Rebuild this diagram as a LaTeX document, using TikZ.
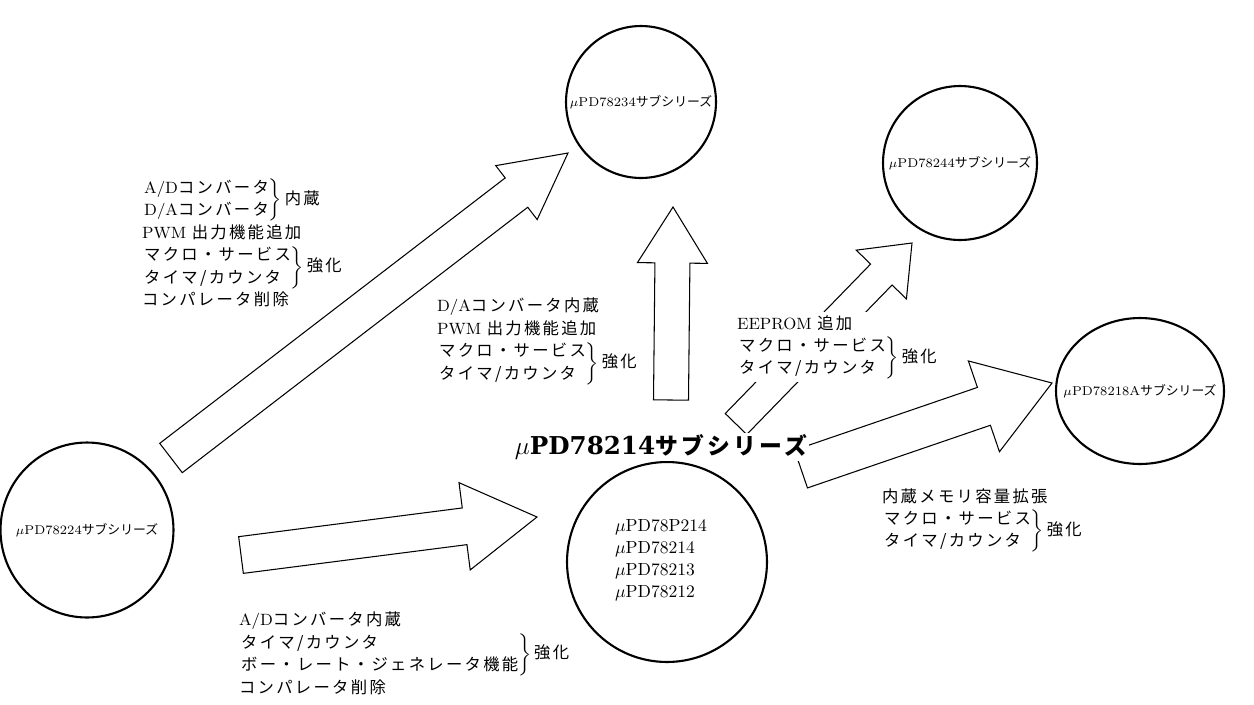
\documentclass[tikz,border=0pt]{standalone}
\usepackage{fontspec}
\usetikzlibrary{calc,shapes.geometric}
\newfontfamily\jp[LetterSpace=14]{Noto Sans CJK JP}
\newfontfamily\jpn{Noto Sans CJK JP}
\newfontfamily\slab{DejaVu Serif}
\tikzstyle{series} = [ellipse, draw=black, line width=1.2pt, inner sep=0pt]
\tikzstyle{subname} = [inner sep=0pt, font={\fontsize{7.3}{10}\selectfont}]
\tikzstyle{spec} = [inner sep=1pt, anchor=west, font={\fontsize{9.3}{12.75}\selectfont}]
\tikzstyle{fat} = [draw=black, line width=0.6pt, line join=miter]
% block arrow: name, tail, tip, half shaft, half head, head length
\newcommand{\fatarrow}[6]{%
  \coordinate (#1) at ($(#3)!#6!(#2)$);
  \draw[fat] ($(#2)!#4!90:(#3)$) -- ($(#1)!#4!90:(#3)$) -- ($(#1)!#5!90:(#3)$) -- (#3)
    -- ($(#1)!#5!-90:(#3)$) -- ($(#1)!#4!-90:(#3)$) -- ($(#2)!#4!-90:(#3)$) -- cycle;
}
\newcommand{\grp}[2]{$\left.\begin{tabular}{@{}l@{}}#1\end{tabular}\right\}$\,{\jp #2}}
\begin{document}
\begin{tikzpicture}[x=0.02cm, y=-0.02cm]
  \useasboundingbox (0,0) rectangle (1254,704);

  % Sub-series
  \node (s224) [series, minimum width=3.46cm, minimum height=3.5cm] at (87,530) {};
  \node (s234) [series, minimum width=3.0cm, minimum height=3.04cm] at (641,102) {};
  \node (s244) [series, minimum width=3.08cm, minimum height=3.08cm] at (960,163) {};
  \node (s218) [series, minimum width=3.36cm, minimum height=2.92cm] at (1140,391) {};
  \node (s214) [series, minimum width=4.0cm, minimum height=4.0cm] at (667,562) {};
  \node (n224) [subname] at (s224) {$\mu$PD78224{\jpn サブシリーズ}};
  \node (n234) [subname] at (s234) {$\mu$PD78234{\jpn サブシリーズ}};
  \node (n244) [subname] at (s244) {$\mu$PD78244{\jpn サブシリーズ}};
  \node (n218) [subname] at (s218) {$\mu$PD78218A{\jpn サブシリーズ}};
  \node (n214) [subname, align=left, font={\fontsize{10}{12.5}\selectfont}] at (661,560)
    {$\mu$PD78P214\\ $\mu$PD78214\\ $\mu$PD78213\\ $\mu$PD78212};

  % Arrow ends
  \coordinate (to234tail) at (171,458);
  \coordinate (to234tip) at (568,153);
  \coordinate (to214tail) at (241,555);
  \coordinate (to214tip) at (537,517);
  \coordinate (upTail) at (671,400);
  \coordinate (upTip) at (673,207);
  \coordinate (to244tail) at (736,424);
  \coordinate (to244tip) at (912,243);
  \coordinate (to218tail) at (801,469);
  \coordinate (to218tip) at (1052,383);

  % Arrows
  \fatarrow{to234head}{to234tail}{to234tip}{0.37cm}{0.68cm}{1.3cm}
  \fatarrow{to214head}{to214tail}{to214tip}{0.37cm}{0.88cm}{1.46cm}
  \fatarrow{upHead}{upTail}{upTip}{0.35cm}{0.7cm}{1.12cm}
  \fatarrow{to244head}{to244tail}{to244tip}{0.3cm}{0.7cm}{0.88cm}
  \fatarrow{to218head}{to218tail}{to218tip}{0.4cm}{0.96cm}{1.44cm}

  % Title
  \node (title) [fill=white, inner sep=1pt] at (661,447)
    {{\slab\bfseries\fontsize{14}{16}\selectfont $\mu$PD78214}{\jp\bfseries\fontsize{13}{16}\selectfont サブシリーズ}};

  % Changes
  \node (specA) [spec] at (140,245) {\begin{tabular}{@{}l@{}}
    \grp{A/D{\jp コンバータ}\\ D/A{\jp コンバータ}}{内蔵}\\
    PWM {\jp 出力機能追加}\\
    \grp{{\jp マクロ・サービス}\\ {\jp タイマ/カウンタ}}{強化}\\
    {\jp コンパレータ削除}
  \end{tabular}};
  \node (specB) [spec] at (435,341) {\begin{tabular}{@{}l@{}}
    D/A{\jp コンバータ内蔵}\\
    PWM {\jp 出力機能追加}\\
    \grp{{\jp マクロ・サービス}\\ {\jp タイマ/カウンタ}}{強化}
  \end{tabular}};
  \node (specC) [spec] at (237,655) {\begin{tabular}{@{}l@{}}
    A/D{\jp コンバータ内蔵}\\
    \grp{{\jp タイマ/カウンタ}\\ {\jp ボー・レート・ジェネレータ機能}}{強化}\\
    {\jp コンパレータ削除}
  \end{tabular}};
  \node (specD) [spec, fill=white] at (735,347) {\begin{tabular}{@{}l@{}}
    EEPROM {\jp 追加}\\
    \grp{{\jp マクロ・サービス}\\ {\jp タイマ/カウンタ}}{強化}
  \end{tabular}};
  \node (specE) [spec] at (880,520) {\begin{tabular}{@{}l@{}}
    {\jp 内蔵メモリ容量拡張}\\
    \grp{{\jp マクロ・サービス}\\ {\jp タイマ/カウンタ}}{強化}
  \end{tabular}};
\end{tikzpicture}
\end{document}
